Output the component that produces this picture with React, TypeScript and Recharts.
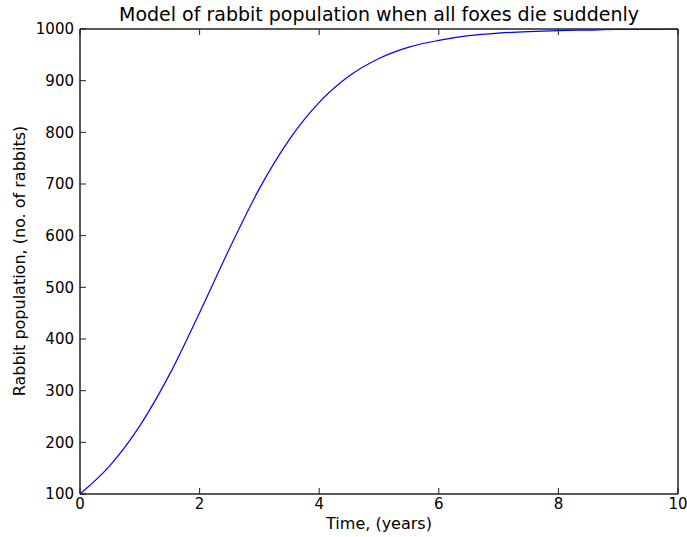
import { LineChart, Line, XAxis, YAxis } from "recharts";

// years since the foxes died
const years = [0, 0.5, 1, 1.5, 2, 2.5, 3, 3.5, 4, 4.5, 5, 5.5, 6, 6.5, 7, 7.5, 8, 8.5, 9, 9.5, 10];
// rabbit count
const rabbits = [100, 155, 232, 332, 451, 575, 691, 786, 858, 909, 943, 965, 978, 987, 992, 995, 997, 998, 999, 999, 1000];

const xTicks = [0, 2, 4, 6, 8, 10];
const yTicks = [100, 200, 300, 400, 500, 600, 700, 800, 900, 1000];

const data = years.map((t, i) => ({ t, rabbits: rabbits[i] }));

const FONT = "'DejaVu Sans', sans-serif";
const TICK_LEN = 6;
const AXIS = "#222";

const BottomTick = ({ x, y, payload }: any) => (
  <g>
    <line x1={x} x2={x} y1={y} y2={y - TICK_LEN} stroke={AXIS} />
    <text x={x} y={y + 4} dy="0.71em" textAnchor="middle" fontSize={15} fill="#000" fontFamily={FONT}>
      {payload.value}
    </text>
  </g>
);

const TopTick = ({ x, y }: any) => (
  <line x1={x} x2={x} y1={y} y2={y + TICK_LEN} stroke={AXIS} />
);

const LeftTick = ({ x, y, payload }: any) => (
  <g>
    <line x1={x} x2={x + TICK_LEN} y1={y} y2={y} stroke={AXIS} />
    <text x={x - 6} y={y} dy="0.355em" textAnchor="end" fontSize={15} fill="#000" fontFamily={FONT}>
      {payload.value}
    </text>
  </g>
);

const RightTick = ({ x, y }: any) => (
  <line x1={x} x2={x - TICK_LEN} y1={y} y2={y} stroke={AXIS} />
);

export default function App() {
  return (
    <div style={{ position: "absolute", left: 0, top: 0, width: 687, height: 537, background: "#fff", fontFamily: FONT }}>
      <LineChart width={687} height={537} data={data} margin={{ top: 28, right: 8, bottom: 0, left: 0 }}>
        <XAxis
          xAxisId="bottom"
          dataKey="t"
          type="number"
          domain={[0, 10]}
          ticks={xTicks}
          height={43}
          tickSize={0}
          tickMargin={0}
          tickLine={false}
          tick={<BottomTick />}
          axisLine={{ stroke: AXIS, strokeWidth: 1.5 }}
          interval={0}
        />
        <XAxis
          xAxisId="top"
          orientation="top"
          dataKey="t"
          type="number"
          domain={[0, 10]}
          ticks={xTicks}
          height={1}
          tickSize={0}
          tickMargin={0}
          tickLine={false}
          tick={<TopTick />}
          axisLine={{ stroke: AXIS, strokeWidth: 1.5 }}
          interval={0}
        />
        <YAxis
          yAxisId="left"
          type="number"
          domain={[100, 1000]}
          ticks={yTicks}
          width={80}
          tickSize={0}
          tickMargin={0}
          tickLine={false}
          tick={<LeftTick />}
          axisLine={{ stroke: AXIS, strokeWidth: 1.5 }}
          interval={0}
        />
        <YAxis
          yAxisId="right"
          orientation="right"
          type="number"
          domain={[100, 1000]}
          ticks={yTicks}
          width={1}
          tickSize={0}
          tickMargin={0}
          tickLine={false}
          tick={<RightTick />}
          axisLine={{ stroke: AXIS, strokeWidth: 1.5 }}
          interval={0}
        />
        <Line
          xAxisId="bottom"
          yAxisId="left"
          type="monotone"
          dataKey="rabbits"
          stroke="#0000ff"
          strokeWidth={1.2}
          dot={false}
          isAnimationActive={false}
        />
      </LineChart>
      <div style={{ position: "absolute", left: 80, width: 598, top: 3, textAlign: "center", fontSize: 19, lineHeight: "22px", color: "#000", whiteSpace: "nowrap" }}>
        Model of rabbit population when all foxes die suddenly
      </div>
      <div style={{ position: "absolute", left: 80, width: 598, top: 514, textAlign: "center", fontSize: 16, lineHeight: "20px", color: "#000" }}>
        Time, (years)
      </div>
      <div
        style={{
          position: "absolute",
          left: 20,
          top: 261,
          width: 400,
          marginLeft: -200,
          marginTop: -10,
          textAlign: "center",
          fontSize: 16,
          lineHeight: "20px",
          color: "#000",
          whiteSpace: "nowrap",
          transform: "rotate(-90deg)",
        }}
      >
        Rabbit population, (no. of rabbits)
      </div>
    </div>
  );
}
